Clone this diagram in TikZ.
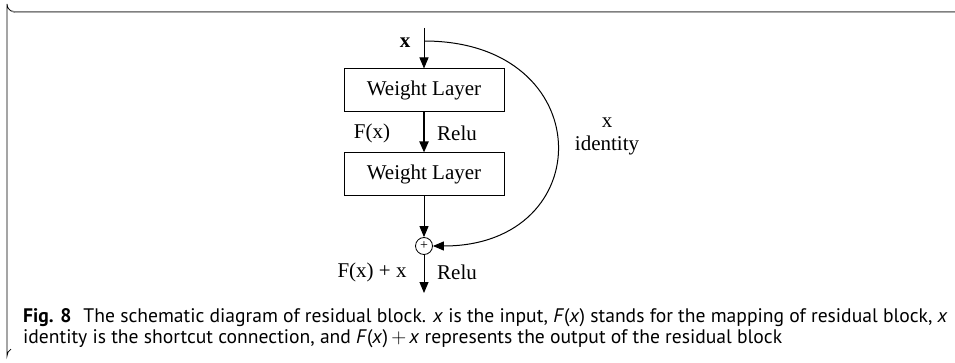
\documentclass[tikz,border=0pt]{standalone}
\usepackage{fontspec}
\setmainfont{Liberation Serif}
\newfontfamily\capfont{PT Sans}
\usetikzlibrary{arrows.meta, positioning}

\begin{document}
\begin{tikzpicture}[x=1pt, y=-1pt,
    font=\fontsize{21}{25}\selectfont,
    layer/.style={rectangle, draw, line width=1pt, minimum width=160pt, minimum height=43pt, inner sep=0pt},
    sumnode/.style={circle, draw, line width=0.8pt, minimum size=17pt, inner sep=0pt},
    arrow/.style={line width=1pt, -{Triangle[length=11pt, width=9pt]}},
    lbl/.style={inner sep=0pt},
    caption/.style={anchor=base west, inner sep=0pt, font=\capfont\fontsize{19.6}{21}\selectfont}]
    \useasboundingbox (0,0) rectangle (955,363);
    % frame of the figure
    \draw[line width=0.8pt] (15,12) arc[start angle=90, end angle=180, radius=8] -- (7,356) arc[start angle=180, end angle=240, radius=8];
    \draw[gray, line width=1.5pt] (955,12) -- (15,12) arc[start angle=90, end angle=120, radius=8];

    \coordinate (in) at (424,28);
    \coordinate (split) at (424,41);
    \node [layer] (wl1) at (424,90.5) {Weight Layer};
    \node [layer] (wl2) at (424,174.5) {Weight Layer};
    \node [sumnode] (add) at (424,246) {\fontsize{14}{14}\selectfont +};
    \coordinate (out) at (424,293);

    \draw [arrow] (in) -- (wl1);
    \draw [arrow, line width=2pt] (wl1) -- (wl2);
    \draw [arrow] (wl2) -- (add);
    \draw [arrow] (add) -- (out);
    \draw [arrow] (split) .. controls (600,41) and (600,246) .. (add.east);

    \node [lbl] (xin) at (405,43) {\textbf{x}};
    \node [lbl] (fx) at (372,133) {F(x)};
    \node [lbl] (relu1) at (457,133) {Relu};
    \node [lbl] (fxx) at (372,272) {F(x) + x};
    \node [lbl] (relu2) at (457,272) {Relu};
    \node [lbl] (xid) at (607,123) {x};
    \node [lbl, below=8pt of xid.south] (ident) {identity};

    % caption lines
    \node [caption] (cap1) at (23,322)
      {\textbf{Fig. 8}\hspace{12pt}The schematic diagram of residual block. \textit{x} is the input, \textit{F}(\textit{x}) stands for the mapping of residual block, \textit{x}};
    \node [caption] (cap2) at (23,343)
      {identity is the shortcut connection, and \textit{F}(\textit{x})\,$+$\,\textit{x} represents the output of the residual block};
\end{tikzpicture}
\end{document}
